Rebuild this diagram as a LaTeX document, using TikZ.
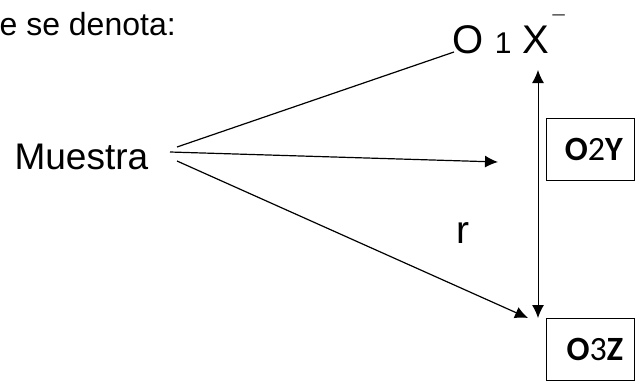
\documentclass[tikz,border=0pt]{standalone}
\usepackage{fontspec}
\setmainfont{Liberation Sans}
\newfontfamily\boxfont{Carlito}
\usetikzlibrary{arrows.meta}
\tikzset{
  txt/.style={inner sep=0pt, anchor=base west},
  obsbox/.style={draw, line width=1pt, text width=66pt, align=right, inner xsep=11pt,
    minimum height=62pt, inner ysep=0pt, font=\boxfont\fontsize{34}{34}\selectfont},
  tip/.style={-{Latex[length=13pt,width=12pt]}}
}
\begin{document}
\begin{tikzpicture}[x=1pt,y=-1pt,line width=1.2pt]
  \useasboundingbox (0,0) rectangle (635,381);
  \draw
    (-1,35) node[txt,font=\fontsize{32}{32}\selectfont] (intro){e se denota:}
    (14,169) node[txt,font=\fontsize{37}{37}\selectfont] (muestra){Muestra}
    (452,53) node[txt,font=\fontsize{40}{40}\selectfont] (o1x){O {\fontsize{30}{30}\selectfont 1} X}
    (552,31) node[txt,font=\fontsize{22}{22}\selectfont] (bar){¯}
    (456,243) node[txt,font=\fontsize{39}{39}\selectfont] (r){r}
    (590,149) node[obsbox] (o2y){\textbf{O}2\textbf{Y}}
    (590,349) node[obsbox] (o3z){\textbf{O}3\textbf{Z}};
  \coordinate (m1) at (177,147);
  \coordinate (m2) at (170,152);
  \coordinate (m3) at (177,161);
  \coordinate (x1) at (454,52);
  \coordinate (y2) at (498,162);
  \coordinate (z3) at (528,318);
  \coordinate (rtop) at (538,70);
  \coordinate (rbot) at (538,318);
  \begin{scope}[tip]
    \draw[-] (m1) to (x1);
    \draw (m2) to (y2);
    \draw (m3) to (z3);
    \draw[{Latex[length=13pt,width=12pt]}-{Latex[length=13pt,width=12pt]},line width=1pt] (rtop) to (rbot);
  \end{scope}
\end{tikzpicture}
\end{document}
